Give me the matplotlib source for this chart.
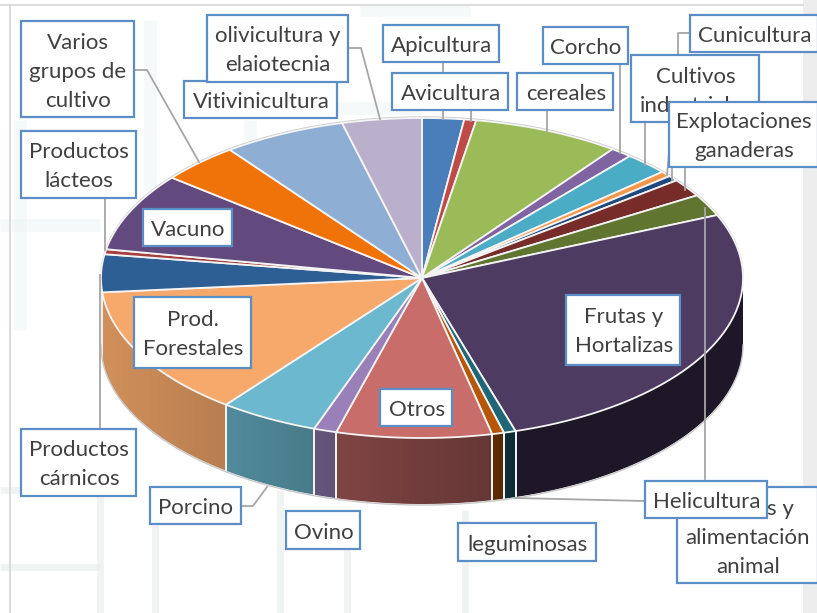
import numpy as np
import matplotlib
matplotlib.use('Agg')
import matplotlib.pyplot as plt
from matplotlib.patches import Polygon, Rectangle
from matplotlib.colors import to_rgb

plt.rcParams['font.family'] = ['Lato', 'DejaVu Sans']

# share of each slice, clockwise from the top
slice_names = ['Apicultura', 'Avicultura', 'cereales', 'Corcho', 'Cultivos industriales',
               'Cunicultura', 'Sin etiqueta', 'Explotaciones ganaderas', 'Helicultura',
               'Frutas y Hortalizas', 'Piensos y alimentación animal', 'leguminosas', 'Otros',
               'Ovino', 'Porcino', 'Prod. Forestales', 'Productos cárnicos', 'Productos lácteos',
               'Vacuno', 'Varios grupos de cultivo', 'Vitivinicultura', 'olivicultura y elaiotecnia']
slice_values = [2.1, 0.6, 7.4, 1.1, 2.25, 0.55, 0.55, 1.8, 2.2, 26.7, 0.6, 0.6, 7.8,
                1.15, 5.0, 13.1, 3.8, 0.5, 7.9, 4.0, 6.2, 4.0]
slice_colors = ['#4A7EBB', '#BE4B48', '#9BBB59', '#8064A2', '#4BACC6', '#F79646', '#1F497D',
                '#772C2A', '#5F7530', '#4D3B62', '#1F6677', '#B65708', '#C96D6B', '#9980B8',
                '#6CB9CF', '#F6A96B', '#2D5F94', '#A5403F', '#634A7E', '#F0730A', '#8FAED4',
                '#BBB0CB']

# pie geometry in pixels
cx, cy, a, b, depth = 422, 278, 321, 160, 66

# label box: text lines, left, top, right, bottom, text centre x, text centre ys
labels = [
    (['Apicultura'], 383, 25, 499, 62, 441, [44]),
    (['Avicultura'], 392, 73, 508, 110, 450, [92]),
    (['cereales'], 517, 73, 613, 110, 565, [92]),
    (['Corcho'], 543, 27, 628, 64, 585, [46]),
    (['Cunicultura'], 690, 15, 818, 52, 754, [34]),
    (['Cultivos', 'industriales'], 631, 55, 759, 122, 695, [75, 104]),
    (['Explotaciones', 'ganaderas'], 669, 102, 818, 167, 743, [120, 149]),
    (['Vitivinicultura'], 184, 81, 337, 118, 260, [100]),
    (['olivicultura y', 'elaiotecnia'], 207, 15, 348, 82, 277, [34, 63]),
    (['Varios', 'grupos de', 'cultivo'], 21, 21, 134, 117, 77, [41, 70, 99]),
    (['Productos', 'lácteos'], 21, 131, 136, 198, 78, [150, 179]),
    (['Vacuno'], 143, 209, 232, 246, 187, [228]),
    (['Prod.', 'Forestales'], 134, 297, 251, 368, 192, [318, 347]),
    (['Productos', 'cárnicos'], 21, 429, 136, 496, 78, [448, 477]),
    (['Porcino'], 150, 487, 241, 524, 195, [506]),
    (['Ovino'], 286, 511, 360, 549, 323, [531]),
    (['Otros'], 380, 389, 452, 426, 416, [408]),
    (['leguminosas'], 458, 523, 596, 561, 527, [543]),
    (['Frutas y', 'Hortalizas'], 566, 295, 680, 365, 623, [315, 344]),
    (['Piensos y', 'alimentación', 'animal'], 677, 487, 818, 583, 747, [507, 536, 565]),
    (['Helicultura'], 645, 481, 767, 518, 706, [500]),
]

# leader lines
leaders = [
    ([443, 443], [62, 119]), ([471, 471], [110, 121]), ([547, 547], [110, 132]),
    ([620, 620], [64, 153]), ([645, 645], [122, 165]), ([690, 678, 678, 667], [33, 33, 55, 175]),
    ([672, 672], [167, 180]), ([685, 685], [167, 190]), ([705, 705], [481, 208]),
    ([350, 361, 380], [48, 48, 119]), ([135, 147, 199], [70, 70, 162]),
    ([105, 105], [198, 250]), ([100, 100], [429, 275]), ([241, 253, 267], [506, 506, 487]),
    ([645, 515], [501, 498]),
]

# soft lines of the faded picture behind the chart
bg_lines = [
    ([100, 100], [495, 613]), ([155, 155], [525, 613]), ([280, 280], [490, 613]),
    ([347, 347], [550, 613]), ([465, 465], [510, 613]), ([0, 100], [567, 567]),
    ([0, 20], [490, 490]),
]
bg_faint = [
    ([20, 20], [120, 330]), ([150, 150], [20, 190]), ([0, 100], [225, 225]), ([300, 420], [108, 108]),
    ([250, 250], [120, 150]), ([360, 470], [10, 10]),
]


def ell(theta, drop=0):
    t = np.radians(theta)
    return cx + a * np.sin(t), cy - b * np.cos(t) + drop


fig = plt.figure(figsize=(8.17, 6.13), dpi=100)
ax = fig.add_axes([0, 0, 1, 1])

for xs, ys in bg_lines:
    ax.plot(xs, ys, color='#E9ECEC', lw=5, alpha=0.6, solid_capstyle='butt', zorder=1)
for xs, ys in bg_faint:
    ax.plot(xs, ys, color='#E6EEEE', lw=9, alpha=0.35, solid_capstyle='butt', zorder=1)
ax.add_patch(Rectangle((803, 0), 14, 613, color='#EDEDED', lw=0, zorder=1))
ax.plot([0, 803], [5, 5], color='#DDDDDD', lw=1.5, zorder=1)
ax.plot([10, 10], [5, 613], color='#D5D5D5', lw=1.2, zorder=1)

edges = np.cumsum([0] + slice_values)
edges = edges / edges[-1] * 360

# side wall, front half only, each slice a horizontal gradient clipped to its outline
for i, col in enumerate(slice_colors):
    t0, t1 = max(edges[i], 90), min(edges[i + 1], 270)
    if t1 <= t0:
        continue
    th = np.linspace(t0, t1, 80)
    x_top, y_top = ell(th)
    x_bot, y_bot = ell(th[::-1], depth)
    outline = Polygon(np.c_[np.r_[x_top, x_bot], np.r_[y_top, y_bot]], closed=True,
                      facecolor='none', edgecolor='none', transform=ax.transData)
    ax.add_patch(outline)
    x_min, x_max = x_top.min(), x_top.max()
    grad_x = np.linspace(x_min, x_max, 120)
    shade = np.interp(grad_x, [101, 226, 320, 340, 495, 510, 520], [0.85, 0.75, 0.66, 0.63, 0.5, 0.45, 0.4])
    grad = np.outer(shade, to_rgb(col))[None, :, :]
    im = ax.imshow(grad, extent=[x_min, x_max, max(y_top.max(), y_bot.max()), min(y_top.min(), y_bot.min())],
                   aspect='auto', interpolation='bilinear', zorder=2)
    im.set_clip_path(outline)
    for t in (t0, t1):
        if 90 < t < 270:
            x0, y0 = ell(t)
            ax.plot([x0, x0], [y0, y0 + depth], color='#F2F2F2', lw=1.3, zorder=3)

ax.set_xlim(0, 817)
ax.set_ylim(613, 0)
ax.set_aspect('auto')
ax.axis('off')

# outline of the disc
arc = np.linspace(90, 270, 200)
x_arc, y_arc = ell(arc, depth + 1)
ax.plot(x_arc, y_arc, color='#C8C8C8', lw=1, zorder=3)
arc = np.linspace(-90, 90, 200)
x_arc, y_arc = ell(arc, -1)
ax.plot(x_arc, y_arc, color='#C8C8C8', lw=1, zorder=3)

# top face
for i, col in enumerate(slice_colors):
    th = np.linspace(edges[i], edges[i + 1], max(3, int(edges[i + 1] - edges[i]) * 2))
    x_top, y_top = ell(th)
    ax.add_patch(Polygon(np.c_[np.r_[cx, x_top], np.r_[cy, y_top]], closed=True,
                         facecolor=col, edgecolor='#F4F4F4', lw=1.3, joinstyle='round', zorder=4))

for xs, ys in leaders:
    ax.plot(xs, ys, color='#A6A6A6', lw=1.3, zorder=5)

for n, (lines, x0, y0, x1, y1, tx, tys) in enumerate(labels):
    z = 6 + n * 0.01
    ax.add_patch(Rectangle((x0, y0), x1 - x0, y1 - y0, facecolor='white', edgecolor='#5B8DC6',
                           lw=1.6, zorder=z))
    for line, ty in zip(lines, tys):
        ax.text(tx + 1, ty + 2, line, ha='center', va='center', fontsize=16, color='#404040', zorder=z)

plt.savefig('out.png', dpi=100)
